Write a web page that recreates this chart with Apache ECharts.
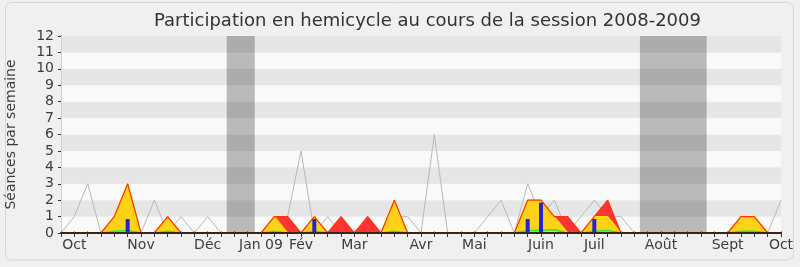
<!DOCTYPE html>
<html>
<head>
<meta charset="utf-8">
<script src="https://cdn.jsdelivr.net/npm/echarts@6/dist/echarts.min.js"></script>
<style>
html,body{margin:0;padding:0;background:#f0f0f0;}
#c{width:800px;height:267px;}
</style>
</head>
<body>
<div id="c"></div>
<script>
// Week indices (0..54) of the session
const weeks = Array.from({length: 55}, (_, i) => i);
// Month labels and the week at which they are shown
const labelWeeks = [1, 6, 11, 15, 18, 22, 27, 31, 36, 40, 45, 50, 54];
const labelTexts = ['Oct', 'Nov', 'Déc', 'Jan 09', 'Fév', 'Mar', 'Avr', 'Mai', 'Juin', 'Juil', 'Août', 'Sept', 'Oct'];
// Vacation periods (week positions)
const vacances = [[12.43, 14.53], [43.42, 48.42]];
// Median (grey line)
const mediane = [0,1,3,0,0,0,0,2,0,1, 0,1,0,0,0,0,1,1,5,0, 1,0,0,0,0,1,1,0,6,0, 0,0,1,2,0,3,1,2,0,1, 2,1,1,0,0,0,0,0,0,0, 0,1,0,0,2];
// Presence (red area)
const presence = [0,0,0,0,1,3,0,0,1,0, 0,0,0,0,0,0,1,1,0,1, 0,1,0,1,0,2,0,0,0,0, 0,0,0,0,0,2,2,1,1,0, 1,2,0,0,0,0,0,0,0,0, 0,1,1,0,0];
// Participation (yellow area)
const participation = [0,0,0,0,1,3,0,0,1,0, 0,0,0,0,0,0,1,0,0,1, 0,0,0,0,0,2,0,0,0,0, 0,0,0,0,0,2,2,1,0,0, 1,1,0,0,0,0,0,0,0,0, 0,1,1,0,0];
// Interventions (green line)
const interventions = [0,0,0,0,0.1,0.15,0,0,0.1,0, 0,0,0,0,0,0,0.1,0,0,0.1, 0,0,0,0,0,0.1,0,0,0,0, 0,0,0,0,0,0.15,0.15,0.2,0,0, 0.1,0.15,0,0,0,0,0,0,0,0, 0,0.1,0.1,0,0];
// Questions (blue bars)
const questions = [0,0,0,0,0,0.85,0,0,0,0, 0,0,0,0,0,0,0,0,0,0.85, 0,0,0,0,0,0,0,0,0,0, 0,0,0,0,0,0.85,1.85,0,0,0, 0.85,0,0,0,0,0,0,0,0,0, 0,0,0,0,0];

const pairs = arr => weeks.map(i => [i, arr[i]]);
const FONT = 'DejaVu Sans';
const chart = echarts.init(document.getElementById('c'), null, {renderer: 'canvas'});
chart.setOption({
  backgroundColor: '#f0f0f0',
  animation: false,
  title: {
    text: 'Participation en hemicycle au cours de la session 2008-2009',
    left: 149, top: 7,
    textStyle: {fontFamily: FONT, fontSize: 18, fontWeight: 'normal', color: '#333'}
  },
  graphic: [{
    type: 'rect', silent: true, z: -1,
    shape: {x: 5.5, y: 2.5, width: 788, height: 257.5, r: 6},
    style: {fill: 'none', stroke: '#d6d6d6', lineWidth: 1}
  }],
  grid: {left: 61, right: 19, top: 36, bottom: 34, outerBoundsMode: 'none', containLabel: false},
  xAxis: [{
    type: 'value', min: 0, max: 54, interval: 1, z: 10,
    axisLine: {show: true, onZero: false, lineStyle: {color: '#3a2418', width: 2}},
    axisTick: {show: true, length: 4, lineStyle: {color: '#333'}},
    splitLine: {show: false},
    axisLabel: {
      margin: 5, color: '#3c3c3c', fontFamily: FONT, fontSize: 14,
      formatter: v => { const k = labelWeeks.indexOf(v); return k >= 0 ? labelTexts[k] : ''; }
    }
  }, {
    type: 'value', min: 0, max: 54, interval: 1, position: 'top',
    axisLine: {show: false},
    axisTick: {show: true, length: 1.5, lineStyle: {color: '#333'}},
    splitLine: {show: false},
    axisLabel: {show: false}
  }],
  yAxis: [{
    type: 'value', min: 0, max: 12, interval: 1,
    name: 'Séances par semaine', nameLocation: 'middle', nameGap: 43,
    nameTextStyle: {fontFamily: FONT, fontSize: 14, color: '#3c3c3c'},
    axisLine: {show: true, lineStyle: {color: '#333'}},
    axisTick: {show: true, length: 3, lineStyle: {color: '#333'}},
    splitLine: {show: false},
    splitArea: {show: true, areaStyle: {color: ['#f9f9f9', '#e6e6e6']}},
    axisLabel: {margin: 7, color: '#3c3c3c', fontFamily: FONT, fontSize: 14}
  }, {
    type: 'value', min: 0, max: 12, interval: 1, position: 'right',
    axisLine: {show: true, lineStyle: {color: '#cfcfcf'}},
    axisTick: {show: false}, axisLabel: {show: false}, splitLine: {show: false}
  }],
  series: [
    {
      name: 'Médiane', type: 'line', data: pairs(mediane), symbol: 'none', z: 2,
      lineStyle: {color: '#b8b8b8', width: 1},
      markArea: {
        silent: true,
        itemStyle: {color: 'rgba(0,0,0,0.25)'},
        data: vacances.map(v => [{xAxis: v[0]}, {xAxis: v[1]}])
      }
    },
    {
      name: 'Présence', type: 'line', data: pairs(presence), symbol: 'none', z: 3,
      lineStyle: {width: 0, color: '#ff3333'},
      areaStyle: {color: '#ff3535', opacity: 1}
    },
    {
      name: 'Participation', type: 'line', data: pairs(participation), symbol: 'none', z: 4,
      lineStyle: {color: '#f5e600', width: 1.2},
      areaStyle: {color: '#ffd21a', opacity: 1}
    },
    {
      name: 'PresenceLigne', type: 'line', data: pairs(presence), symbol: 'none', z: 5,
      lineStyle: {color: '#ff3300', width: 1.2}
    },
    {
      name: 'Interventions', type: 'line', data: pairs(interventions), symbol: 'none', z: 6,
      lineStyle: {color: '#22ee22', width: 1.5}
    },
    {
      name: 'Questions', type: 'bar', data: pairs(questions), barWidth: 4, z: 7,
      itemStyle: {color: '#2323dc'},
      markLine: {
        silent: true, symbol: 'none', animation: false,
        label: {show: false},
        lineStyle: {color: '#3a2418', width: 2, type: 'solid'},
        data: [{yAxis: 0}]
      }
    }
  ]
});
</script>
</body>
</html>
